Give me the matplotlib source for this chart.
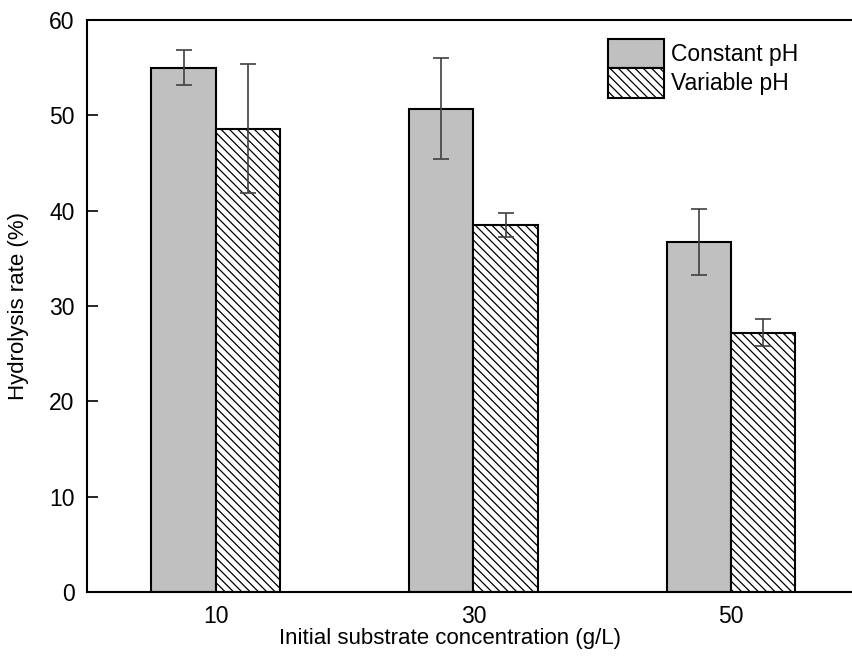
import numpy as np
import matplotlib.pyplot as plt

plt.rcParams['font.family'] = ['Liberation Sans', 'DejaVu Sans']
plt.rcParams['hatch.linewidth'] = 0.9
plt.rcParams['hatch.color'] = '#202020'

# data
conc = ['10', '30', '50']
constant_ph = [55.0, 50.7, 36.7]
constant_err = [1.8, 5.3, 3.5]
variable_ph = [48.6, 38.5, 27.2]
variable_err = [6.8, 1.3, 1.4]

fig = plt.figure(figsize=(8.53, 6.63), dpi=100)
ax = fig.add_axes([0.102, 0.107, 0.906, 0.863])

x = np.arange(len(conc))
w = 0.25
ekw = dict(ecolor='#404040', elinewidth=1.2, capthick=1.2)

ax.bar(x - w / 2, constant_ph, w, color='#c0c0c0', edgecolor='black',
       linewidth=1.5, yerr=constant_err, capsize=6, error_kw=ekw,
       label='Constant pH')
ax.bar(x + w / 2, variable_ph, w, color='white', edgecolor='black',
       linewidth=1.5, hatch='\\\\\\\\', yerr=variable_err, capsize=6,
       error_kw=ekw, label='Variable pH')

ax.set_xlim(-0.5, 2.5)
ax.set_ylim(0, 60)
ax.set_xticks(x)
ax.set_xticklabels(conc)
ax.set_yticks(range(0, 61, 10))
ax.tick_params(axis='y', direction='in', length=8, width=1.2, pad=9, labelsize=16.5)
ax.tick_params(axis='x', length=0, pad=9, labelsize=16.5)
for s in ax.spines.values():
    s.set_linewidth(1.5)

ax.set_xlabel('Initial substrate concentration (g/L)', fontsize=16)
ax.xaxis.set_label_coords(0.47, -0.062)
ax.set_ylabel('Hydrolysis rate (%)', fontsize=16)
ax.yaxis.set_label_coords(-0.075, 0.5)

ax.legend(loc='upper left', bbox_to_anchor=(0.647, 1.003), frameon=False,
          fontsize=16.5, handlelength=2.45, handleheight=1.6, labelspacing=0.0,
          handletextpad=0.3, borderaxespad=0.5)

fig.savefig('out.png', dpi=100)
